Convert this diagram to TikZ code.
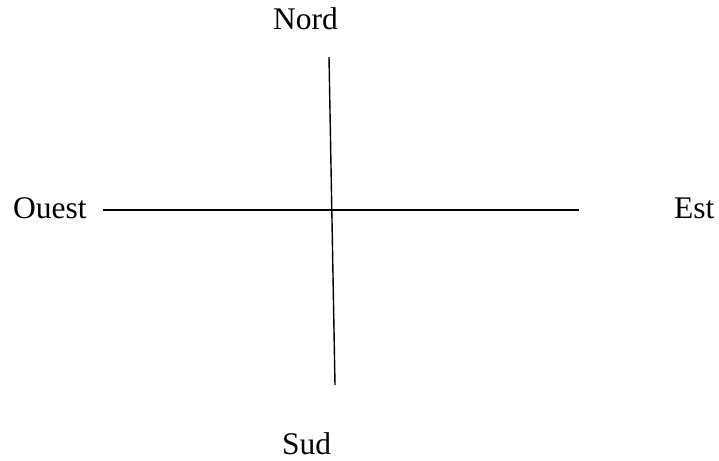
\documentclass[tikz,border=0pt]{standalone}
\usepackage{fontspec}
\setmainfont{Liberation Serif}
\tikzset{
  lbl/.style={anchor=base west, inner sep=0pt, font=\fontsize{31.5}{37}\selectfont},
  axis/.style={line width=1.4pt, line cap=butt}
}
\begin{document}
\begin{tikzpicture}[x=1pt,y=-1pt]
\useasboundingbox (0,0) rectangle (719,460);
\node[lbl] (nord) at (273,30) {Nord};
\node[lbl] (ouest) at (13,218) {Ouest};
\node[lbl] (est) at (674,218) {Est};
\node[lbl] (sud) at (282,454) {Sud};
\coordinate (n) at (329,57);
\coordinate (s) at (335,385);
\coordinate (w) at (103,210);
\coordinate (e) at (579,210);
\draw[axis] (n) -- (s);
\draw[axis] (w) -- (e);
\end{tikzpicture}
\end{document}
